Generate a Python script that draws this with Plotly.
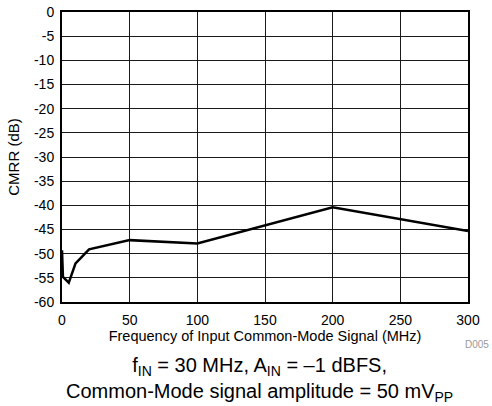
import plotly.graph_objects as go

freq_mhz = [0, 0.7, 5, 10, 20, 50, 100, 200, 300]
cmrr_db = [-49.3, -54.8, -56.0, -52.0, -49.1, -47.2, -47.9, -40.4, -45.3]

x_ticks = [0, 50, 100, 150, 200, 250, 300]
y_ticks = [0, -5, -10, -15, -20, -25, -30, -35, -40, -45, -50, -55, -60]

FONT = "Liberation Sans, Arial, sans-serif"

fig = go.Figure()
fig.add_trace(go.Scatter(x=freq_mhz, y=cmrr_db, mode="lines",
                         line=dict(color="black", width=2.5), showlegend=False))

axis_common = dict(showline=True, linecolor="black", linewidth=2, mirror=True,
                   showgrid=True, gridcolor="#1a1a1a", gridwidth=1, zeroline=False,
                   ticks="", automargin=False,
                   tickfont=dict(family=FONT, size=14, color="black"))

fig.update_xaxes(range=[0, 300], tickvals=x_ticks, ticktext=[str(v) for v in x_ticks],
                 ticklabelstandoff=4,
                 title=dict(text="Frequency of Input Common-Mode Signal (MHz)",
                            font=dict(family=FONT, size=14.5, color="black"), standoff=4),
                 **axis_common)
fig.update_yaxes(range=[-60, 0], tickvals=y_ticks, ticktext=[str(v) for v in y_ticks],
                 ticklabelstandoff=3,
                 title=dict(text="CMRR (dB)", font=dict(family=FONT, size=15, color="black"),
                            standoff=11),
                 **axis_common)

PLOT_W, PLOT_H = 406, 290

def px_x(p):
    return (p - 62) / PLOT_W

def px_y(p):
    return (302 - p) / PLOT_H

fig.add_annotation(x=px_x(491), y=px_y(344), xref="paper", yref="paper", text="D005",
                   showarrow=False, xanchor="right", yanchor="middle",
                   font=dict(family=FONT, size=10, color="#999999"))
fig.add_annotation(x=px_x(259), y=px_y(379), xref="paper", yref="paper",
                   text=("f<sub>IN</sub> = 30 MHz, A<sub>IN</sub> = \u20131 dBFS,<br>"
                         "Common-Mode signal amplitude = 50 mV<sub>PP</sub>"),
                   showarrow=False, xanchor="center", yanchor="middle", align="center",
                   font=dict(family=FONT, size=20, color="black"))

fig.update_layout(width=492, height=406, margin=dict(l=62, r=24, t=12, b=104),
                  plot_bgcolor="white", paper_bgcolor="white",
                  font=dict(family=FONT, color="black"))

fig.write_html("out.html", config={"displayModeBar": False},
               post_script="document.body.style.margin='0';")
